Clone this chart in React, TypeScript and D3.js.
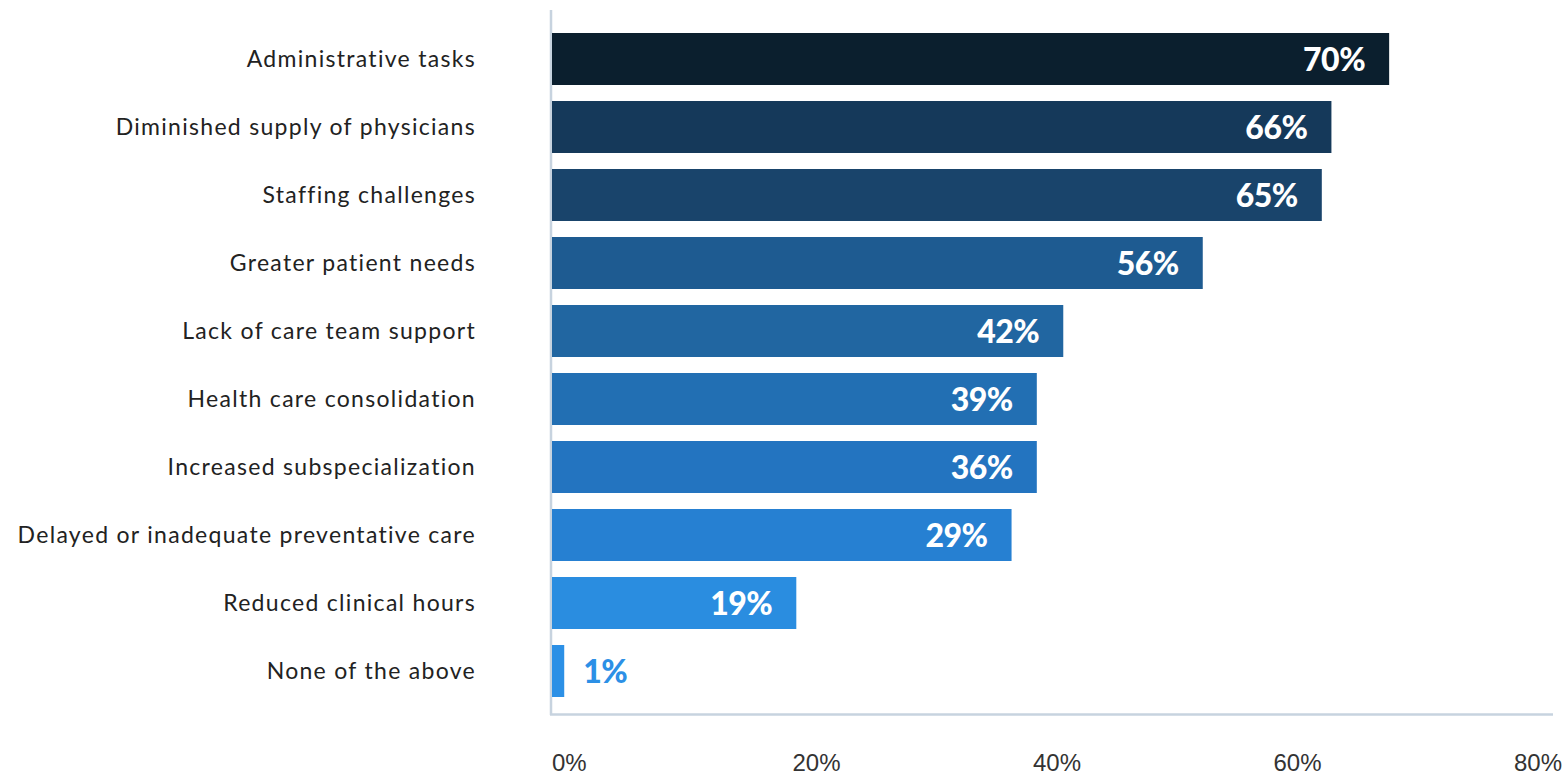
import React from "react";
import * as d3 from "d3";

const categories = [
  "Administrative tasks",
  "Diminished supply of physicians",
  "Staffing challenges",
  "Greater patient needs",
  "Lack of care team support",
  "Health care consolidation",
  "Increased subspecialization",
  "Delayed or inadequate preventative care",
  "Reduced clinical hours",
  "None of the above",
];
// bar lengths as drawn (percent units)
const barValues = [69.7, 64.9, 64.1, 54.2, 42.6, 40.4, 40.4, 38.3, 20.4, 1.1];
// value labels as printed
const valueLabels = ["70%", "66%", "65%", "56%", "42%", "39%", "36%", "29%", "19%", "1%"];
const barColors = [
  "#0b1f2e",
  "#15395a",
  "#19446b",
  "#1e5b91",
  "#2166a1",
  "#226fb3",
  "#2374c0",
  "#2680d2",
  "#2a8de0",
  "#2c90e6",
];
const xTicks = [0, 20, 40, 60, 80];

const W = 1568;
const H = 776;
const X0 = 551;
const X80 = 1513;
const TOP = 25;
const BOTTOM = 705;

export default function App() {
  const x = d3.scaleLinear().domain([0, 80]).range([X0, X80]);
  const y = d3
    .scaleBand<string>()
    .domain(categories)
    .range([TOP, BOTTOM])
    .paddingInner(16 / 68)
    .paddingOuter(8 / 68);

  return (
    <svg
      width={W}
      height={H}
      style={{ position: "absolute", left: 0, top: 0, background: "#fff" }}
    >
      {/* axis lines */}
      <line x1={551} x2={551} y1={10} y2={715} stroke="#c7d3df" strokeWidth={2.5} />
      <line x1={550} x2={1553} y1={714.5} y2={714.5} stroke="#c7d3df" strokeWidth={2.5} />

      {categories.map((c, i) => {
        const yb = y(c)!;
        const bw = y.bandwidth();
        const xe = x(barValues[i]);
        const inside = barValues[i] > 5;
        return (
          <g key={c}>
            <text
              x={476}
              y={yb + bw / 2}
              dy="0.35em"
              textAnchor="end"
              fontFamily="Lato, 'Open Sans', sans-serif"
              fontSize={23}
              letterSpacing={1.3}
              fill="#222"
            >
              {c}
            </text>
            <rect x={552} y={yb} width={xe - 552} height={bw} fill={barColors[i]} />
            <text
              x={inside ? xe - 24 : xe + 19}
              y={yb + bw / 2}
              dy="0.36em"
              textAnchor={inside ? "end" : "start"}
              fontFamily="Lato, 'Open Sans', sans-serif"
              fontWeight={900}
              fontSize={32}
              letterSpacing={-0.5}
              fill={inside ? "#ffffff" : barColors[i]}
            >
              {valueLabels[i]}
            </text>
          </g>
        );
      })}

      {xTicks.map((t) => (
        <text
          key={t}
          x={x(t) + 1}
          y={771}
          textAnchor="start"
          fontFamily="'Liberation Sans', Arial, sans-serif"
          fontSize={24}
          fill="#333"
        >
          {t + "%"}
        </text>
      ))}
    </svg>
  );
}
